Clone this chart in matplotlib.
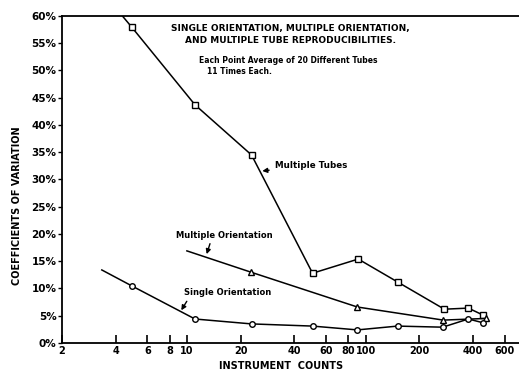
import matplotlib.pyplot as plt
from matplotlib.ticker import FixedLocator, FixedFormatter

# Data (x = instrument counts, y = coefficient of variation, %)
tubes_x = [3.34, 4.9, 11.1, 23, 50.5, 91, 151, 276, 376, 456]
tubes_y = [64.5, 58.0, 43.7, 34.5, 12.8, 15.4, 11.2, 6.2, 6.4, 5.1]

orient_x = [10.0, 22.8, 90, 272, 470]
orient_y = [16.9, 13.0, 6.6, 4.2, 4.5]

single_x = [3.34, 4.9, 11.1, 23, 50.5, 90, 151, 270, 376, 456]
single_y = [13.4, 10.5, 4.4, 3.5, 3.1, 2.4, 3.1, 2.9, 4.4, 3.7]

xticks = [2, 4, 6, 8, 10, 20, 40, 60, 80, 100, 200, 400, 600]
yticks = [0, 5, 10, 15, 20, 25, 30, 35, 40, 45, 50, 55, 60]

plt.rcParams['font.family'] = 'DejaVu Sans'
plt.rcParams['font.weight'] = 'bold'

fig = plt.figure(figsize=(5.19, 3.72), dpi=100)
ax = fig.add_axes([0.1195, 0.078, 0.88, 0.879])

ms = 4
ax.plot(tubes_x, tubes_y, color='black', lw=1.1, marker='s', ms=ms,
        mfc='white', mew=1.0, markevery=list(range(1, len(tubes_x))))
ax.plot(orient_x, orient_y, color='black', lw=1.1, marker='^', ms=ms,
        mfc='white', mew=1.0, markevery=list(range(1, len(orient_x))))
ax.plot(single_x, single_y, color='black', lw=1.1, marker='o', ms=ms,
        mfc='white', mew=1.0, markevery=list(range(1, len(single_x))))

ax.set_xscale('log')
ax.set_xlim(2, 720)
ax.set_ylim(0, 60)

ax.xaxis.set_major_locator(FixedLocator(xticks))
ax.xaxis.set_major_formatter(FixedFormatter([str(t) for t in xticks]))
ax.xaxis.set_minor_locator(FixedLocator([]))
ax.set_yticks(yticks)
ax.set_yticklabels([f'{t}%' for t in yticks])

ax.tick_params(axis='x', direction='in', length=6, width=1.2, labelsize=7, pad=2)
ax.tick_params(axis='y', direction='out', length=3, width=1.0, labelsize=7.5, pad=1)
for lab in ax.get_xticklabels() + ax.get_yticklabels():
    lab.set_fontweight('bold')

ax.spines['right'].set_visible(False)
for s in ['left', 'bottom', 'top']:
    ax.spines[s].set_linewidth(1.3)

ax.set_xlabel('INSTRUMENT  COUNTS', fontsize=7, fontweight='bold', labelpad=3)
ax.xaxis.set_label_coords(0.479, -0.055)
ax.set_ylabel('COEFFICIENTS OF VARIATION', fontsize=7, fontweight='bold', labelpad=4)
ax.yaxis.set_label_coords(-0.088, 0.42)

# Title block inside the plot
ax.text(0.5, 0.975, 'SINGLE ORIENTATION, MULTIPLE ORIENTATION,\nAND MULTIPLE TUBE REPRODUCIBILITIES.',
        transform=ax.transAxes, ha='center', va='top', fontsize=6.5, fontweight='bold',
        linespacing=1.35)
ax.text(0.3, 0.878, 'Each Point Average of 20 Different Tubes', transform=ax.transAxes,
        ha='left', va='top', fontsize=5.5, fontweight='bold')
ax.text(0.317, 0.843, '11 Times Each.', transform=ax.transAxes,
        ha='left', va='top', fontsize=5.5, fontweight='bold')

# Curve labels with arrows
ax.annotate('Multiple Tubes', xy=(25.5, 31.5), xytext=(31, 32.6),
            fontsize=6.3, fontweight='bold', va='center', ha='left',
            arrowprops=dict(arrowstyle='-|>', color='black', lw=1.0, mutation_scale=7))
ax.annotate('Multiple Orientation', xy=(12.9, 16.3), xytext=(16.1, 19.8),
            fontsize=6, fontweight='bold', va='center', ha='center',
            arrowprops=dict(arrowstyle='-|>', color='black', lw=1.0, mutation_scale=7,
                            relpos=(0.37, 0.0), shrinkA=1, shrinkB=0))
ax.annotate('Single Orientation', xy=(9.3, 6.0), xytext=(16.9, 9.2),
            fontsize=6, fontweight='bold', va='center', ha='center',
            arrowprops=dict(arrowstyle='-|>', color='black', lw=1.0, mutation_scale=7,
                            relpos=(0.06, 0.0), shrinkA=1, shrinkB=0))

fig.savefig('out.png', dpi=100)
